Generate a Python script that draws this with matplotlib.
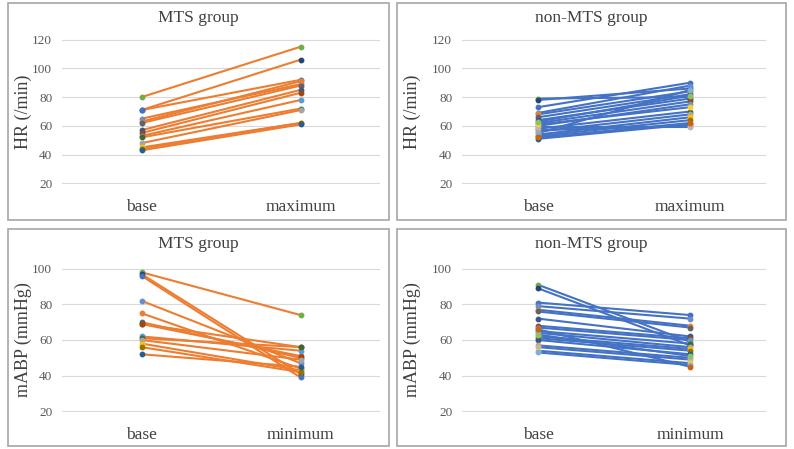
import matplotlib
matplotlib.use("Agg")
import matplotlib.pyplot as plt
from matplotlib.patches import Rectangle

plt.rcParams['font.family'] = ['Liberation Serif', 'DejaVu Serif']

W, H = 794, 449

# marker colours, one per patient (office palette)
palette = ["#70AD47", "#264478", "#4472C4", "#698ED0", "#ED7D31", "#636363",
           "#3A5694", "#9E480E", "#5B9BD5", "#43682B", "#A5A5A5", "#FFC000",
           "#997300", "#255E91", "#F1975A", "#B7B7B7", "#FFCD33", "#7CAFDD",
           "#8CC168", "#D26012"]

# MTS group, heart rate
mts_hr_base = [80, 71, 71, 65, 63, 62, 57, 55, 53, 52, 48, 45, 44, 43]
mts_hr_max = [115, 106, 92, 89, 91, 88, 85, 83, 78, 72, 71, 62, 62, 61]

# non-MTS group, heart rate
non_hr_base = [79, 78, 73, 69, 68, 66, 64, 62, 60, 58, 56, 54, 53, 51, 57, 59, 61, 55, 63, 52]
non_hr_max = [80, 86, 90, 88, 84, 82, 79, 77, 75, 70, 68, 66, 64, 61, 60, 59, 73, 85, 81, 62]

# MTS group, mean arterial pressure
mts_map_base = [98, 97, 96, 82, 75, 70, 69, 69, 62, 61, 60, 58, 56, 52]
mts_map_min = [74, 41, 39, 47, 44, 50, 56, 51, 54, 56, 49, 43, 42, 45]

# non-MTS group, mean arterial pressure
non_map_base = [91, 89, 81, 79, 77, 76, 72, 68, 67, 65, 64, 62, 61, 60, 57, 56, 54, 53, 63, 66]
non_map_min = [59, 57, 74, 72, 68, 67, 62, 61, 60, 58, 56, 55, 54, 52, 50, 49, 47, 46, 51, 45]

fig = plt.figure(figsize=(W / 100, H / 100), dpi=100, facecolor="white")


def frac(x0, y0, x1, y1):
    return [x0 / W, 1 - y1 / H, (x1 - x0) / W, (y1 - y0) / H]


def panel(box, plot, title, ylabel, cats, base, other, ymax, yticks, line_color):
    # outer border like the excel chart frame
    bx = frac(*box)
    fig.patches.append(Rectangle((bx[0], bx[1]), bx[2], bx[3], transform=fig.transFigure,
                                 fill=False, edgecolor="#A6A6A6", linewidth=1.2))
    ax = fig.add_axes(frac(*plot))
    for i in range(len(base)):
        c = palette[i % len(palette)]
        ax.plot([0, 1], [base[i], other[i]], color=line_color, lw=1.5, zorder=2)
        ax.plot([0, 1], [base[i], other[i]], ls="none", marker="o", ms=3.2,
                color=c, zorder=3)
    ax.set_xlim(-0.5, 1.5)
    ax.set_ylim(19.6, ymax + 0.4)
    ax.set_yticks(yticks)
    ax.set_xticks([0, 1])
    ax.set_xticklabels(cats, fontsize=12.5, color="#404040")
    ax.tick_params(axis="x", length=0, pad=10.5)
    ax.tick_params(axis="y", length=0, pad=7, labelsize=9.5, labelcolor="#595959")
    ax.grid(axis="y", color="#D9D9D9", lw=0.8)
    ax.set_axisbelow(True)
    for s in ax.spines.values():
        s.set_visible(False)
    cx = (box[0] + box[2]) / 2
    fig.text(cx / W, 1 - (box[1] + 15) / H, title, ha="center", va="center",
             fontsize=12.5, color="#404040")
    fig.text((box[0] + 15) / W, 1 - ((plot[1] + plot[3]) / 2) / H, ylabel,
             rotation=90, ha="center", va="center", fontsize=13, color="#404040")
    return ax


panel((8, 3, 389, 220), (62, 39, 380, 184), "MTS group", "HR (/min)",
      ["base", "maximum"], mts_hr_base, mts_hr_max, 120, range(20, 121, 20), "#ED7D31")
panel((397, 3, 786, 220), (462, 39, 766, 184), "non-MTS group", "HR (/min)",
      ["base", "maximum"], non_hr_base, non_hr_max, 120, range(20, 121, 20), "#4472C4")
panel((8, 229, 389, 446), (62, 268, 380, 412), "MTS group", "mABP (mmHg)",
      ["base", "minimum"], mts_map_base, mts_map_min, 100, range(20, 101, 20), "#ED7D31")
panel((397, 229, 786, 446), (462, 268, 766, 412), "non-MTS group", "mABP (mmHg)",
      ["base", "minimum"], non_map_base, non_map_min, 100, range(20, 101, 20), "#4472C4")

fig.savefig("out.png", dpi=100, facecolor="white")
